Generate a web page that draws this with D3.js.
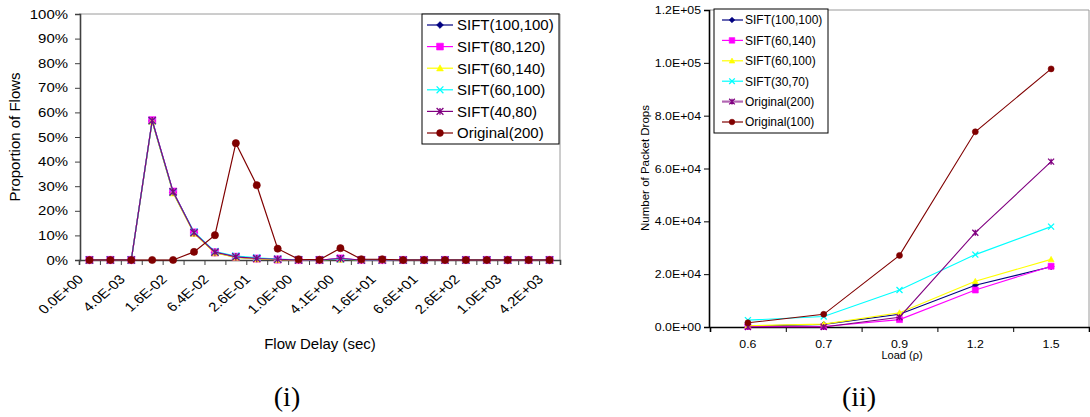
<!DOCTYPE html>
<html>
<head>
<meta charset="utf-8">
<script src="https://cdn.jsdelivr.net/npm/d3@7"></script>
<style>
body { margin: 0; background: #fff; }
svg { display: block; font-family: "Liberation Sans", Arial, sans-serif; }
</style>
</head>
<body>
<svg id="canvas" width="1090" height="417"></svg>
<script>
// ---- data: chart (i) ----
const delays = [0, 2e-3, 4e-3, 8e-3, 1.6e-2, 3.2e-2, 6.4e-2, 1.28e-1, 2.56e-1, 5.12e-1,
  1.024, 2.048, 4.096, 8.192, 16.384, 32.768, 65.536, 131.072, 262.144, 524.288,
  1048.576, 2097.152, 4194.304];

const flowNames = ["SIFT(100,100)", "SIFT(80,120)", "SIFT(60,140)", "SIFT(60,100)", "SIFT(40,80)", "Original(200)"];
const sift100_100 = [0, 0, 0, 56.5, 27.5, 11.0, 3.0, 1.2, 0.5, 0.2, 0, 0, 0.5, 0, 0, 0, 0, 0, 0, 0, 0, 0, 0];
const sift80_120  = [0, 0, 0, 56.8, 27.8, 11.2, 3.1, 1.3, 0.6, 0.2, 0, 0, 0.6, 0, 0, 0, 0, 0, 0, 0, 0, 0, 0];
const sift60_140  = [0, 0, 0, 56.3, 27.2, 10.8, 2.9, 1.1, 0.4, 0.1, 0, 0, 0.3, 0, 0, 0, 0, 0, 0, 0, 0, 0, 0];
const sift60_100  = [0, 0, 0, 56.6, 27.6, 11.4, 3.4, 1.6, 0.9, 0.4, 0.1, 0, 0.4, 0, 0, 0, 0, 0, 0, 0, 0, 0, 0];
const sift40_80   = [0, 0, 0, 56.7, 27.7, 11.1, 3.2, 1.3, 0.6, 0.3, 0, 0, 0.6, 0, 0, 0, 0, 0, 0, 0, 0, 0, 0];
const orig200     = [0, 0, 0, 0, 0, 3.3, 10.1, 47.5, 30.4, 4.6, 0.3, 0.1, 4.8, 0.3, 0.3, 0, 0, 0, 0, 0, 0, 0, 0];
const flowSeries = [sift100_100, sift80_120, sift60_140, sift60_100, sift40_80, orig200];

// ---- data: chart (ii) ----
const loads = ["0.6", "0.7", "0.9", "1.2", "1.5"];
const dropNames = ["SIFT(100,100)", "SIFT(60,140)", "SIFT(60,100)", "SIFT(30,70)", "Original(200)", "Original(100)"];
const dSift100_100 = [300, 1000, 4800, 15800, 22800];
const dSift60_140  = [200, 200, 2800, 14000, 23000];
const dSift60_100  = [500, 1100, 5400, 17300, 25600];
const dSift30_70   = [2600, 4000, 14000, 27400, 38000];
const dOrig200     = [0, 0, 3700, 35700, 62600];
const dOrig100     = [1600, 4800, 27100, 73900, 97700];
const dropSeries = [dSift100_100, dSift60_140, dSift60_100, dSift30_70, dOrig200, dOrig100];

const flowStyle = [
  {color: "#000080", mark: "diamond"},
  {color: "#ff00ff", mark: "square"},
  {color: "#ffff00", mark: "triangle"},
  {color: "#00ffff", mark: "x"},
  {color: "#800080", mark: "star"},
  {color: "#800000", mark: "circle"}
];
const dropStyle = [
  {color: "#000080", mark: "diamond"},
  {color: "#ff00ff", mark: "square"},
  {color: "#ffff00", mark: "triangle"},
  {color: "#00ffff", mark: "x"},
  {color: "#800080", mark: "star"},
  {color: "#800000", mark: "circle"}
];

const svg = d3.select("#canvas");

function expFmt(v) {
  let [m, e] = v.toExponential(1).split("e");
  const sign = e[0] === "-" ? "-" : "+";
  e = e.replace(/[+-]/, "").padStart(2, "0");
  return m + "E" + sign + e;
}

function markPath(type, r) {
  switch (type) {
    case "diamond": return `M0,${-r}L${r},0L0,${r}L${-r},0Z`;
    case "square": return `M${-r},${-r}H${r}V${r}H${-r}Z`;
    case "triangle": return `M0,${-r}L${r},${r * 0.8}L${-r},${r * 0.8}Z`;
    case "x": return `M${-r},${-r}L${r},${r}M${-r},${r}L${r},${-r}`;
    case "star": return `M${-r},${-r}L${r},${r}M${-r},${r}L${r},${-r}M0,${-r}V${r}`;
    default: return d3.symbol().type(d3.symbolCircle).size(Math.PI * r * r)();
  }
}

function drawMark(g, st, x, y, r) {
  const open = st.mark === "x" || st.mark === "star";
  g.append("path")
    .attr("transform", `translate(${x},${y})`)
    .attr("d", markPath(st.mark, r))
    .attr("fill", open ? "none" : st.color)
    .attr("stroke", st.color)
    .attr("stroke-width", open ? 1.3 : 0.6);
}

// ================= chart (i) =================
const L = {left: 79, right: 560, top: 14, bottom: 260, sx: 1.15};
const xL = d3.scaleBand().domain(d3.range(delays.length)).range([L.left, L.right]);
const yL = d3.scaleLinear().domain([0, 100]).range([L.bottom, L.top]);
const gL = svg.append("g");

// plot border
gL.append("path")
  .attr("d", `M${L.left},${L.top}H${L.right}V${L.bottom}`)
  .attr("fill", "none").attr("stroke", "#9a9a9a").attr("stroke-width", 1);

const yAxL = gL.append("g")
  .attr("transform", `translate(${L.left + 1},0)`)
  .call(d3.axisLeft(yL).tickValues(d3.range(0, 101, 10)).tickSize(5).tickPadding(7)
    .tickFormat(d => d + "%"));
yAxL.selectAll("text").attr("font-size", 13).attr("fill", "#000")
  .attr("transform", function() { const x = +d3.select(this).attr("x"); return `translate(${x},0) scale(${L.sx},1)`; })
  .attr("x", 0);

// boundary ticks on x axis
const xTickL = d3.scaleLinear().domain([0, delays.length]).range([L.left, L.right]);
const xAxL = gL.append("g")
  .attr("transform", `translate(0,${L.bottom})`)
  .call(d3.axisBottom(xTickL).tickValues(d3.range(0, delays.length + 1)).tickSize(5).tickFormat(""));
// labels at category centres
const xLab = gL.append("g")
  .attr("transform", `translate(0,${L.bottom})`)
  .call(d3.axisBottom(xL).tickValues(d3.range(0, delays.length, 2)).tickSize(0)
    .tickFormat(i => expFmt(delays[i])));
xLab.select(".domain").remove();
xLab.selectAll("text").attr("font-size", 13).attr("fill", "#000")
  .attr("text-anchor", "end").attr("x", 0).attr("y", 0).attr("dy", "0.35em")
  .attr("transform", `translate(-9,17) scale(${L.sx},1) rotate(-45)`);

[yAxL, xAxL].forEach(a => {
  a.select(".domain").attr("stroke", "#404040").attr("stroke-width", 1.6);
  a.selectAll(".tick line").attr("stroke", "#404040");
});

// series
flowSeries.forEach((s, k) => {
  const st = flowStyle[k];
  gL.append("path")
    .datum(s)
    .attr("fill", "none").attr("stroke", st.color).attr("stroke-width", 1.2)
    .attr("d", d3.line().x((d, i) => xL(i) + xL.bandwidth() / 2).y(d => yL(d)));
  s.forEach((d, i) => drawMark(gL, st, xL(i) + xL.bandwidth() / 2, yL(d), 3.6));
});

gL.append("text")
  .attr("transform", `translate(20,137) rotate(-90)`)
  .attr("text-anchor", "middle").attr("font-size", 15)
  .text("Proportion of Flows");
gL.append("text")
  .attr("x", 320).attr("y", 349).attr("text-anchor", "middle").attr("font-size", 15)
  .text("Flow Delay (sec)");

// legend (i)
const lgL = gL.append("g");
lgL.append("rect").attr("x", 422).attr("y", 14).attr("width", 137).attr("height", 130)
  .attr("fill", "#fff").attr("stroke", "#000").attr("stroke-width", 1);
flowNames.forEach((n, k) => {
  const y = 25 + k * 21.6;
  const st = flowStyle[k];
  lgL.append("line").attr("x1", 427).attr("x2", 453).attr("y1", y).attr("y2", y)
    .attr("stroke", st.color).attr("stroke-width", 1.2);
  drawMark(lgL, st, 440, y, 3.4);
  lgL.append("text").attr("x", 457).attr("y", y + 5.3).attr("font-size", 15).text(n);
});

// ================= chart (ii) =================
const R = {left: 710, right: 1089, top: 10, bottom: 327, sx: 1.12};
const xR = d3.scaleBand().domain(loads).range([R.left, R.right]);
const yR = d3.scaleLinear().domain([0, 120000]).range([R.bottom, R.top]);
const gR = svg.append("g");

gR.append("path")
  .attr("d", `M${R.left},${R.top}H${R.right}V${R.bottom}`)
  .attr("fill", "none").attr("stroke", "#9a9a9a").attr("stroke-width", 1);

const yAxR = gR.append("g")
  .attr("transform", `translate(${R.left - 1},0)`)
  .call(d3.axisLeft(yR).tickValues(d3.range(0, 120001, 20000)).tickSize(5).tickPadding(3)
    .tickFormat(expFmt));
yAxR.selectAll("text").attr("font-size", 11).attr("fill", "#000")
  .attr("transform", function() { const x = +d3.select(this).attr("x"); return `translate(${x},0) scale(${R.sx},1)`; })
  .attr("x", 0);

const xTickR = d3.scaleLinear().domain([0, loads.length]).range([R.left, R.right]);
const xAxR = gR.append("g")
  .attr("transform", `translate(0,${R.bottom})`)
  .call(d3.axisBottom(xTickR).tickValues(d3.range(0, loads.length + 1)).tickSize(5).tickFormat(""));
const xLabR = gR.append("g")
  .attr("transform", `translate(0,${R.bottom})`)
  .call(d3.axisBottom(xR).tickSize(0).tickPadding(13));
xLabR.select(".domain").remove();
xLabR.selectAll("text").attr("font-size", 11).attr("fill", "#000")
  .attr("transform", function() { const y = +d3.select(this).attr("y"); return `translate(0,${y}) scale(${R.sx},1)`; })
  .attr("y", 0);

[yAxR, xAxR].forEach(a => {
  a.select(".domain").attr("stroke", "#000").attr("stroke-width", 1.6);
  a.selectAll(".tick line").attr("stroke", "#000");
});

dropSeries.forEach((s, k) => {
  const st = dropStyle[k];
  gR.append("path")
    .datum(s)
    .attr("fill", "none").attr("stroke", st.color).attr("stroke-width", 1.1)
    .attr("d", d3.line().x((d, i) => xR(loads[i]) + xR.bandwidth() / 2).y(d => yR(d)));
  s.forEach((d, i) => drawMark(gR, st, xR(loads[i]) + xR.bandwidth() / 2, yR(d), 3));
});

gR.append("text")
  .attr("transform", `translate(649,168) rotate(-90)`)
  .attr("text-anchor", "middle").attr("font-size", 11.5)
  .text("Number of Packet Drops");
gR.append("text")
  .attr("x", 902).attr("y", 359).attr("text-anchor", "middle").attr("font-size", 11)
  .text("Load (\u03c1)");

const lgR = gR.append("g");
lgR.append("rect").attr("x", 714).attr("y", 9).attr("width", 114).attr("height", 124)
  .attr("fill", "#fff").attr("stroke", "#000").attr("stroke-width", 1);
dropNames.forEach((n, k) => {
  const y = 20 + k * 20.4;
  const st = dropStyle[k];
  lgR.append("line").attr("x1", 722).attr("x2", 743).attr("y1", y).attr("y2", y)
    .attr("stroke", st.color).attr("stroke-width", st.mark === "star" ? 2.2 : 1.2)
    .attr("stroke-opacity", st.mark === "star" ? 0.6 : 1);
  drawMark(lgR, st, 732, y, 2.8);
  lgR.append("text").attr("x", 745).attr("y", y + 4.3).attr("font-size", 12).text(n);
});

// captions
svg.append("text").attr("x", 287).attr("y", 406).attr("text-anchor", "middle")
  .attr("font-family", "'Liberation Serif', 'Times New Roman', serif").attr("font-size", 28).text("(i)");
svg.append("text").attr("x", 859).attr("y", 406).attr("text-anchor", "middle")
  .attr("font-family", "'Liberation Serif', 'Times New Roman', serif").attr("font-size", 28).text("(ii)");
</script>
</body>
</html>
